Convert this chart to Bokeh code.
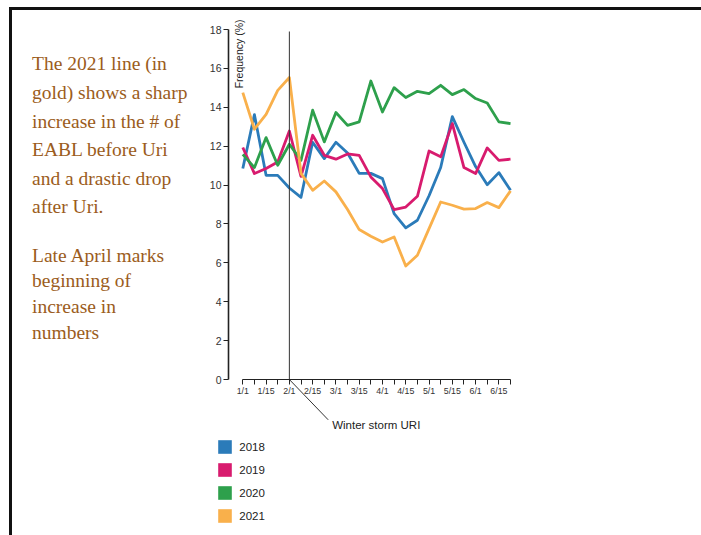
import math
from bokeh.plotting import figure
from bokeh.models import FixedTicker, Label, Legend, LegendItem, LinearAxis
from bokeh.embed import file_html
from bokeh.resources import INLINE

# ---------------- data ----------------
weeks = list(range(24))
tick_positions = list(range(0, 24, 2))
tick_labels = ["1/1", "1/15", "2/1", "2/15", "3/1", "3/15", "4/1", "4/15",
               "5/1", "5/15", "6/1", "6/15"]
y_ticks = list(range(0, 19, 2))
years = ["2018", "2019", "2020", "2021"]
s2018 = [10.85, 13.62, 10.5, 10.5, 9.85, 9.37, 12.2, 11.36, 12.2, 11.65, 10.6, 10.6,
         10.33, 8.53, 7.8, 8.19, 9.45, 10.9, 13.52, 12.2, 10.95, 10.02, 10.64, 9.73]
s2019 = [11.93, 10.59, 10.85, 11.19, 12.78, 10.45, 12.56, 11.53, 11.33, 11.6, 11.53, 10.42,
         9.82, 8.74, 8.87, 9.42, 11.75, 11.45, 13.16, 10.9, 10.59, 11.91, 11.27, 11.33]
s2020 = [11.58, 10.9, 12.44, 11.02, 12.1, 11.27, 13.85, 12.22, 13.73, 13.07, 13.25, 15.35,
         13.76, 15.01, 14.5, 14.82, 14.7, 15.13, 14.65, 14.91, 14.45, 14.22, 13.25, 13.16]
s2021 = [14.75, 12.87, 13.64, 14.87, 15.53, 10.6, 9.73, 10.21, 9.65, 8.74, 7.71, 7.37,
         7.07, 7.33, 5.84, 6.39, 7.76, 9.13, 8.96, 8.76, 8.79, 9.1, 8.84, 9.7]
series = [s2018, s2019, s2020, s2021]
colors = ["#2b7bb9", "#d81b6e", "#2ea04c", "#f9b04b"]
storm_week = 4
storm_label = "Winter storm URI"
y_label = "Frequency (%)"
note_para1 = ["The 2021 line (in", "gold) shows a sharp", "increase in the # of",
              "EABL before Uri", "and a drastic drop", "after Uri."]
note_para2 = ["Late April marks", "beginning of", "increase in", "numbers"]

# ---------------- layout geometry (canvas pixels) ----------------
W, H = 701, 535
FRAME_L, FRAME_T = 22, 12          # frame spans to the right/bottom edges
X0_PX, DX_PX = 242.3, 11.64        # pixel of week 0, pixels per week
Y0_PX, DY_PX = 379.0, 350.0 / 18   # pixel of value 0, pixels per unit


def cx(px):
    return (px - X0_PX) / DX_PX


def cy(py):
    return (Y0_PX - py) / DY_PX


p = figure(width=W, height=H, output_backend="svg", toolbar_location=None,
           x_range=(cx(FRAME_L), cx(W)), y_range=(cy(H), cy(FRAME_T)),
           x_axis_location=None, y_axis_location=None,
           min_border_left=FRAME_L, min_border_right=0,
           min_border_top=FRAME_T, min_border_bottom=0)
p.xgrid.visible = False
p.ygrid.visible = False
p.outline_line_color = None
p.background_fill_alpha = 0
p.border_fill_alpha = 0
p.styles = {"box-shadow": "inset 9px 7px 0 0 #ffffff, inset 12px 10px 0 0 #111111"}

SANS = "Liberation Sans"

# x axis: drawn at y = 0 (ticks pointing down, labels under them)
xa = LinearAxis(fixed_location=0,
                ticker=FixedTicker(ticks=tick_positions,
                                   minor_ticks=[w for w in weeks if w % 2]))
xa.major_label_overrides = {pos: lab for pos, lab in zip(tick_positions, tick_labels)}
xa.bounds = (0, 23)
xa.major_tick_in = 5
xa.major_tick_out = 0
xa.minor_tick_in = 5
xa.minor_tick_out = 0
xa.axis_line_color = "#222"
xa.axis_line_width = 1.2
xa.major_tick_line_color = "#222"
xa.minor_tick_line_color = "#222"
xa.major_label_text_font = SANS
xa.major_label_text_font_size = "8.8px"
xa.major_label_text_color = "#333"
xa.major_label_standoff = -16
p.add_layout(xa, "above")

# y axis: drawn at the left edge of the data area
ya = LinearAxis(fixed_location=cx(228), ticker=FixedTicker(ticks=y_ticks, minor_ticks=[]))
ya.bounds = (0, 18)
ya.major_tick_in = 0
ya.major_tick_out = 5
ya.minor_tick_out = 0
ya.axis_line_color = "#222"
ya.axis_line_width = 1.6
ya.major_tick_line_color = "#222"
ya.major_label_text_font = SANS
ya.major_label_text_font_size = "10.5px"
ya.major_label_text_color = "#333"
ya.major_label_standoff = 2
p.add_layout(ya, "left")

for s, c in zip(series, colors):
    p.line(weeks, s, line_color=c, line_width=2.8, line_join="round")

# storm marker and its leader line
p.line([storm_week, storm_week, cx(327.7)], [cy(31), 0, cy(419.3)],
       line_color="#333", line_width=1)
p.add_layout(Label(x=cx(331.7), y=cy(424.5), text=storm_label, text_align="left",
                   text_baseline="middle", text_font=SANS, text_font_size="11.5px",
                   text_color="#222"))

# y axis title (inside, rotated)
p.add_layout(Label(x=cx(232.3), y=cy(19), text=y_label, angle=math.pi / 2,
                   text_align="right", text_baseline="top", text_font=SANS,
                   text_font_size="10.5px", text_color="#222"))

# legend with square swatches (swatch glyphs hold no visible data)
nan = float("nan")
items = []
for yr, c in zip(years, colors):
    r = p.quad(left=[nan], right=[nan], top=[nan], bottom=[nan],
               fill_color=c, line_color=None)
    items.append(LegendItem(label=yr, renderers=[r]))
legend = Legend(items=items, location=(216.3 - FRAME_L, H - 524), border_line_color=None,
                background_fill_alpha=0, padding=0, margin=0, spacing=6,
                glyph_width=17, glyph_height=17, label_height=17, label_standoff=6,
                label_text_font=SANS, label_text_font_size="11.5px",
                label_text_color="#222")
p.add_layout(legend)

# left notes
SERIF = "Liberation Serif"
note_color = "#9b5c20"
for i, t in enumerate(note_para1):
    p.add_layout(Label(x=cx(31.5), y=cy(63.3 + 28.6 * i), text=t, text_font=SERIF,
                       text_font_size="19.5px", text_color=note_color,
                       text_baseline="alphabetic"))
for i, t in enumerate(note_para2):
    p.add_layout(Label(x=cx(31.5), y=cy(254.5 + 25.7 * i), text=t, text_font=SERIF,
                       text_font_size="19.5px", text_color=note_color,
                       text_baseline="alphabetic"))

open("out.html", "w").write(file_html(p, INLINE))
